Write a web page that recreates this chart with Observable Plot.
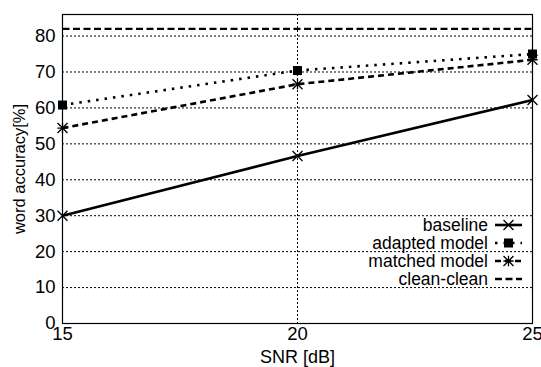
<!DOCTYPE html>
<html><head><meta charset="utf-8">
<script src="https://cdn.jsdelivr.net/npm/d3@7"></script>
<script src="https://cdn.jsdelivr.net/npm/@observablehq/plot@0.6"></script>
<style>body{margin:0;background:#fff;}</style>
</head><body><div id="chart"></div>
<script>
const snr = [15, 20, 25];
const baseline = [30, 46.6, 62.2];
const adapted = [60.8, 70.4, 75];
const matched = [54.4, 66.6, 73.4];
const clean = [82, 82, 82];
const seriesNames = ["baseline", "adapted model", "matched model", "clean-clean"];
const xTicks = [15, 20, 25];
const yTicks = [0, 10, 20, 30, 40, 50, 60, 70, 80];

const values = [baseline, adapted, matched, clean];
const symR = {times: 4.6, plus: 3.4, square: 5.1};
const styles = [
  {width: 2.6, dash: null, symbols: ["times"], fill: false},
  {width: 2.6, dash: "2.5,6", symbols: ["square"], fill: true},
  {width: 2.6, dash: "6,4", symbols: ["plus", "times"], fill: false},
  {width: 2.4, dash: "7,3.5", symbols: [], fill: false}
];
const rows = [];
values.forEach((vals, i) => snr.forEach((s, j) => rows.push({series: seriesNames[i], i, x: s, y: vals[j]})));

const FONT = "Liberation Sans, Arial, Helvetica, sans-serif";
const marks = [
  Plot.gridY(yTicks, {stroke: "#000", strokeOpacity: 1, strokeWidth: 1, strokeDasharray: "2,2"}),
  Plot.gridX(xTicks, {stroke: "#000", strokeOpacity: 1, strokeWidth: 1, strokeDasharray: "2,2"}),
  Plot.axisX(xTicks, {tickSize: 0, tickPadding: 3, fontSize: 18.5, label: null}),
  Plot.axisX({ticks: [], tickSize: 0, fontSize: 18, label: "SNR [dB]", labelAnchor: "center", labelArrow: "none", labelOffset: 39}),
  Plot.axisY(yTicks, {tickSize: 0, tickPadding: 7, fontSize: 18.5, label: null}),
  Plot.axisY({ticks: [], tickSize: 0, fontSize: 16.5, label: "word accuracy[%]", labelAnchor: "center", labelArrow: "none", labelOffset: 49}),
  Plot.frame({stroke: "#000", strokeWidth: 1.2})
];
styles.forEach((st, i) => {
  const d = rows.filter(r => r.i === i);
  marks.push(Plot.line(d, {x: "x", y: "y", stroke: "#000", strokeWidth: st.width, strokeDasharray: st.dash, strokeLinecap: "butt"}));
  st.symbols.forEach(sym => {
    marks.push(Plot.dot(d, {x: "x", y: "y", symbol: () => sym, r: symR[sym],
      fill: st.fill ? "#000" : "none", stroke: st.fill ? "none" : "#000", strokeWidth: 1.3}));
  });
});

const chart = Plot.plot({
  width: 541, height: 367,
  marginLeft: 62, marginRight: 9, marginTop: 14, marginBottom: 44,
  style: {fontFamily: FONT, fontSize: "18px", color: "#000", background: "#fff", overflow: "visible"},
  x: {domain: [15, 25], ticks: xTicks},
  y: {domain: [0, 86], ticks: yTicks},
  marks
});

// legend (inside plot, bottom-right)
const xr = chart.scale("x").range, yr = chart.scale("y").range;
const right = Math.max(...xr), bottom = Math.max(...yr);
const svg = d3.select(chart);
const g = svg.append("g").attr("font-family", FONT).attr("font-size", 17.5);
seriesNames.forEach((name, i) => {
  const yy = bottom - 98 + i * 18;
  const st = styles[i];
  g.append("text").attr("x", right - 44).attr("y", yy).attr("dy", "0.35em")
    .attr("text-anchor", "end").attr("fill", "#000").text(name);
  g.append("line").attr("x1", right - 37).attr("x2", right - 10).attr("y1", yy).attr("y2", yy)
    .attr("stroke", "#000").attr("stroke-width", st.width).attr("stroke-dasharray", st.dash);
  st.symbols.forEach(sym => {
    const symObj = {times: d3.symbolTimes, plus: d3.symbolPlus, square: d3.symbolSquare}[sym];
    g.append("path").attr("transform", `translate(${right - 23.5},${yy})`)
      .attr("d", d3.symbol(symObj, Math.PI * symR[sym] * symR[sym])())
      .attr("fill", st.fill ? "#000" : "none").attr("stroke", st.fill ? "none" : "#000").attr("stroke-width", 1.3);
  });
});
document.getElementById("chart").appendChild(chart);
</script>
</body></html>
